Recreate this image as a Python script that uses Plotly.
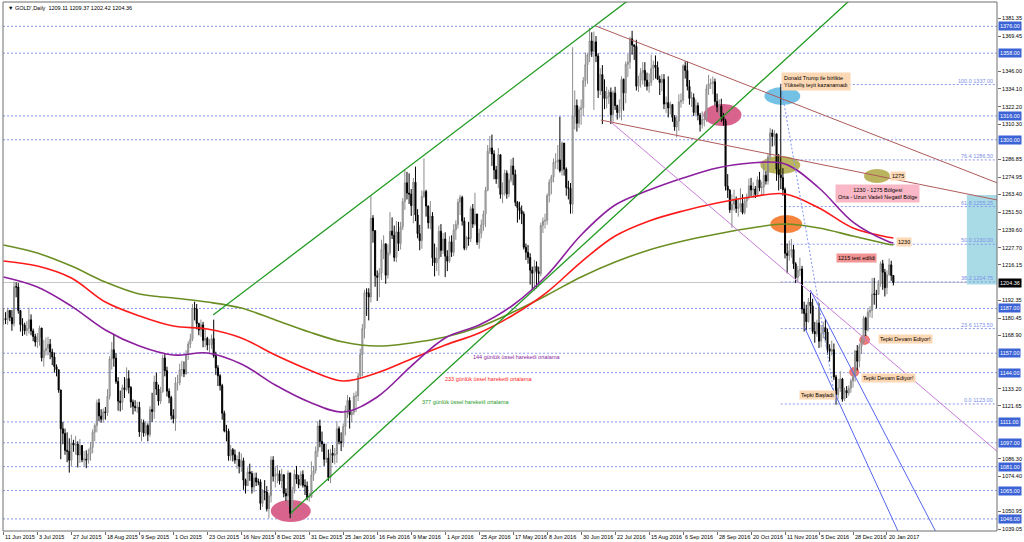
import plotly.graph_objects as go

# ---------------- DATA ----------------
# x-axis labels (MT4 prints one every 16 bars)
tick_labels = ["11 Jun 2015", "3 Jul 2015", "27 Jul 2015", "18 Aug 2015", "9 Sep 2015", "1 Oct 2015",
               "23 Oct 2015", "16 Nov 2015", "8 Dec 2015", "31 Dec 2015", "25 Jan 2016", "16 Feb 2016",
               "9 Mar 2016", "1 Apr 2016", "25 Apr 2016", "17 May 2016", "8 Jun 2016", "30 Jun 2016",
               "22 Jul 2016", "15 Aug 2016", "6 Sep 2016", "28 Sep 2016", "20 Oct 2016", "11 Nov 2016",
               "5 Dec 2016", "28 Dec 2016", "20 Jan 2017"]
BARS_PER_LABEL = 16

first_open = 1179.0
close = [
    # Jun 2015
    1180.2, 1179.6, 1185.6, 1180.9, 1176.7, 1201.5, 1201.4, 1185.6, 1176.2, 1175.8, 1172.1, 1173.6, 1179.4, 1171.9,
    # Jul 2015
    1168.2, 1164.5, 1167.5, 1173.9, 1154.0, 1158.7, 1160.3, 1163.0, 1157.8, 1154.5, 1148.0, 1145.9, 1132.4, 1106.4,
    1103.3, 1091.9, 1091.3, 1085.3, 1096.8, 1095.4, 1096.1, 1088.8, 1095.2,
    # Aug 2015
    1085.6, 1086.0, 1085.5, 1089.6, 1093.9, 1104.0, 1108.6, 1123.8, 1115.0, 1112.8, 1117.8, 1117.1, 1128.2, 1153.2,
    1159.3, 1153.7, 1138.1, 1124.9, 1124.0, 1133.9, 1132.6,
    # Sep 2015
    1140.0, 1134.0, 1124.3, 1121.4, 1120.6, 1120.8, 1104.3, 1110.6, 1103.5, 1108.5, 1102.5, 1119.3, 1117.9, 1137.7,
    1133.0, 1124.9, 1131.4, 1153.8, 1145.3, 1131.6, 1127.3, 1115.2,
    # Oct 2015
    1113.2, 1137.1, 1137.3, 1146.0, 1146.0, 1143.3, 1156.2, 1163.2, 1166.4, 1187.0, 1186.7, 1176.9, 1172.5, 1176.0,
    1165.6, 1167.0, 1162.5, 1162.8, 1166.8, 1155.3, 1147.2, 1141.9,
    # Nov 2015
    1135.3, 1116.8, 1105.0, 1104.8, 1088.2, 1092.4, 1089.0, 1085.4, 1085.8, 1081.2, 1085.0, 1072.0, 1068.3, 1077.5,
    1076.4, 1067.4, 1073.5, 1070.8, 1070.8, 1056.4, 1064.4,
    # Dec 2015
    1064.0, 1052.8, 1061.5, 1085.4, 1074.6, 1075.6, 1076.2, 1071.4, 1075.6, 1063.1, 1061.4, 1076.8, 1049.8, 1065.0,
    1075.9, 1072.6, 1069.0, 1075.8, 1068.5, 1068.0, 1060.4, 1060.8,
    # Jan 2016
    1075.4, 1078.3, 1091.3, 1108.2, 1097.9, 1096.2, 1085.9, 1086.8, 1073.8, 1090.0, 1088.6, 1089.4, 1106.4, 1097.8,
    1097.0, 1107.8, 1118.8, 1125.4, 1115.8, 1117.4,
    # Feb 2016
    1128.2, 1128.4, 1141.6, 1156.1, 1173.5, 1197.5, 1197.3, 1194.7, 1247.5, 1239.1, 1208.9, 1207.9, 1210.7, 1226.6,
    1230.3, 1209.3, 1224.2, 1238.8, 1236.0, 1221.2, 1238.3,
    # Mar 2016
    1230.5, 1241.7, 1258.6, 1271.2, 1264.3, 1263.6, 1255.9, 1271.6, 1249.6, 1237.1, 1232.4, 1262.0, 1265.4, 1255.6,
    1244.4, 1248.9, 1220.9, 1217.6, 1220.4, 1238.7, 1225.9, 1233.5,
    # Apr 2016
    1222.0, 1218.7, 1231.7, 1224.6, 1239.6, 1243.3, 1258.2, 1261.4, 1245.5, 1227.3, 1234.5, 1233.8, 1253.8, 1243.6,
    1250.3, 1231.4, 1237.3, 1243.0, 1250.2, 1266.2, 1292.3,
    # May 2016
    1294.5, 1290.5, 1279.8, 1273.8, 1290.0, 1263.4, 1264.6, 1277.6, 1263.7, 1273.0, 1282.5, 1276.8, 1258.1, 1254.6,
    1252.5, 1250.3, 1228.0, 1224.6, 1221.2, 1212.6, 1210.6, 1215.2,
    # Jun 2016
    1211.7, 1210.3, 1242.6, 1245.5, 1246.0, 1262.6, 1271.5, 1275.1, 1285.0, 1285.2, 1286.5, 1279.3, 1297.8, 1280.3,
    1268.0, 1267.5, 1256.8, 1315.9, 1323.0, 1311.0, 1320.3, 1321.5,
    # Jul 2016
    1339.6, 1350.3, 1356.8, 1366.2, 1359.3, 1365.6, 1356.1, 1333.1, 1343.7, 1332.6, 1327.6, 1328.9, 1331.8, 1316.8,
    1331.4, 1322.9, 1318.2, 1320.4, 1340.5, 1331.4, 1350.6,
    # Aug 2016
    1352.0, 1367.7, 1363.5, 1362.5, 1335.9, 1339.9, 1344.9, 1346.5, 1339.9, 1335.9, 1338.3, 1347.8, 1350.1, 1348.4,
    1340.6, 1338.3, 1340.5, 1323.9, 1324.9, 1321.3, 1323.6, 1315.0, 1308.6,
    # Sep 2016
    1312.5, 1325.4, 1326.4, 1349.6, 1346.4, 1335.8, 1327.7, 1328.2, 1318.3, 1322.9, 1316.5, 1310.3, 1313.6, 1313.9,
    1334.2, 1337.5, 1337.7, 1338.9, 1325.7, 1321.8, 1322.6, 1315.6,
    # Oct 2016
    1312.8, 1268.9, 1266.2, 1253.1, 1256.8, 1259.9, 1254.0, 1255.0, 1257.4, 1251.2, 1259.0, 1261.8, 1269.2, 1266.4,
    1267.0, 1263.4, 1273.2, 1267.7, 1268.4, 1276.2, 1272.3,
    # Nov 2016
    1288.6, 1304.6, 1302.2, 1304.0, 1280.2, 1276.5, 1274.6, 1266.6, 1223.9, 1222.5, 1225.6, 1226.5, 1216.9, 1207.7,
    1212.4, 1213.4, 1186.6, 1183.6, 1178.2, 1191.3, 1188.7, 1171.6,
    # Dec 2016
    1170.0, 1177.3, 1165.1, 1170.3, 1174.2, 1171.2, 1160.0, 1158.3, 1159.4, 1141.1, 1129.3, 1133.7, 1139.7, 1126.2,
    1132.0, 1130.4, 1133.5, 1138.4, 1141.3, 1158.6, 1151.6,
    # Jan 2017
    1161.5, 1164.8, 1180.6, 1172.6, 1184.5, 1185.7, 1196.7, 1196.5, 1196.4, 1203.6, 1217.0, 1211.2, 1200.9, 1209.6,
    1216.2, 1209.11, 1204.36,
]
high = [
    1187.0, 1184.5, 1187.5, 1186.0, 1186.0, 1205.0, 1204.5, 1204.0, 1186.0, 1180.5, 1177.5, 1178.5, 1187.5, 1183.0,
    1173.5, 1170.0, 1170.5, 1175.5, 1174.0, 1166.0, 1167.5, 1168.0, 1166.5, 1160.0, 1157.5, 1149.5, 1146.0, 1132.0,
    1111.0, 1106.5, 1104.0, 1100.0, 1102.5, 1099.0, 1101.5, 1098.0, 1099.5,
    1095.5, 1091.5, 1092.0, 1093.0, 1097.5, 1106.0, 1110.0, 1126.0, 1126.5, 1119.5, 1120.0, 1121.0, 1133.0, 1155.0,
    1164.5, 1170.0, 1157.0, 1141.0, 1132.0, 1136.0, 1141.0,
    1147.5, 1145.5, 1135.0, 1126.0, 1125.5, 1124.5, 1124.5, 1113.0, 1112.5, 1111.5, 1110.0, 1121.5, 1130.5, 1142.0,
    1144.0, 1136.0, 1134.5, 1156.0, 1156.5, 1148.0, 1133.5, 1128.5,
    1119.5, 1141.0, 1142.5, 1150.0, 1152.0, 1151.5, 1159.0, 1165.0, 1170.0, 1190.0, 1191.5, 1190.0, 1177.5, 1179.5,
    1178.0, 1173.0, 1168.0, 1166.5, 1169.5, 1179.5, 1158.0, 1149.0,
    1143.0, 1136.5, 1118.5, 1109.0, 1106.5, 1095.5, 1093.5, 1092.5, 1088.5, 1091.0, 1090.0, 1087.0, 1073.0, 1080.5,
    1083.0, 1078.0, 1077.0, 1077.0, 1073.0, 1072.5, 1066.0,
    1072.0, 1068.0, 1063.5, 1088.0, 1088.0, 1080.5, 1082.0, 1078.5, 1079.5, 1075.0, 1066.5, 1078.5, 1077.0, 1067.5,
    1079.0, 1081.5, 1075.5, 1078.0, 1078.5, 1072.5, 1071.0, 1063.5,
    1084.5, 1081.5, 1094.5, 1111.5, 1112.5, 1104.5, 1095.5, 1096.5, 1092.5, 1093.0, 1095.5, 1093.5, 1111.5, 1108.0,
    1104.0, 1110.0, 1122.0, 1129.0, 1127.5, 1119.0,
    1130.5, 1131.5, 1144.0, 1160.0, 1176.5, 1199.5, 1200.5, 1200.5, 1263.0, 1249.5, 1239.5, 1212.5, 1214.0, 1233.0,
    1236.0, 1223.0, 1230.0, 1251.5, 1248.0, 1242.5, 1245.5,
    1245.0, 1245.0, 1261.0, 1280.0, 1278.5, 1277.5, 1267.0, 1274.5, 1282.0, 1253.5, 1243.0, 1266.0, 1287.5, 1266.5,
    1256.0, 1259.0, 1251.5, 1230.5, 1228.0, 1242.5, 1243.5, 1237.5,
    1238.0, 1226.0, 1235.5, 1236.0, 1243.5, 1246.0, 1260.5, 1263.0, 1262.5, 1248.0, 1235.5, 1245.0, 1255.5, 1257.0,
    1264.5, 1250.0, 1240.5, 1246.5, 1252.5, 1268.5, 1296.5,
    1302.5, 1303.5, 1293.0, 1282.5, 1294.5, 1290.0, 1271.5, 1280.0, 1279.5, 1277.5, 1287.0, 1288.0, 1280.0, 1259.0,
    1258.5, 1256.0, 1252.0, 1230.5, 1229.5, 1224.0, 1215.0, 1219.5,
    1218.5, 1215.0, 1244.5, 1248.0, 1250.5, 1264.0, 1273.5, 1276.5, 1287.5, 1291.0, 1296.5, 1315.5, 1299.0, 1297.5,
    1281.5, 1272.5, 1271.0, 1362.0, 1333.0, 1327.0, 1322.5, 1327.0,
    1342.0, 1358.5, 1358.0, 1375.0, 1372.0, 1372.5, 1369.5, 1358.0, 1348.0, 1350.0, 1340.5, 1335.5, 1333.5, 1335.0,
    1333.0, 1335.5, 1323.5, 1327.0, 1342.5, 1341.0, 1352.5,
    1357.5, 1369.0, 1373.0, 1364.0, 1367.0, 1343.0, 1348.0, 1352.0, 1352.0, 1345.0, 1344.5, 1357.0, 1353.0, 1356.5,
    1352.5, 1343.0, 1344.0, 1344.0, 1329.0, 1342.5, 1325.5, 1324.0, 1316.5,
    1316.0, 1330.5, 1331.0, 1350.5, 1352.5, 1352.5, 1340.0, 1332.0, 1331.0, 1327.0, 1325.0, 1318.0, 1319.0, 1318.0,
    1337.0, 1343.5, 1341.0, 1342.5, 1341.0, 1331.0, 1327.0, 1327.5,
    1318.0, 1314.0, 1277.0, 1267.0, 1263.5, 1266.5, 1262.0, 1260.5, 1267.5, 1263.5, 1261.0, 1264.0, 1274.0, 1274.5,
    1271.5, 1269.0, 1275.5, 1278.5, 1272.0, 1284.0, 1279.0,
    1290.5, 1308.0, 1307.0, 1306.5, 1286.0, 1290.5, 1337.5, 1281.0, 1268.0, 1230.5, 1232.5, 1233.5, 1229.5, 1218.0,
    1215.5, 1221.0, 1215.5, 1191.5, 1189.5, 1194.0, 1197.5, 1193.5,
    1178.0, 1179.5, 1190.5, 1176.0, 1178.0, 1180.0, 1173.5, 1163.0, 1165.5, 1163.5, 1142.5, 1140.0, 1145.0, 1140.5,
    1134.0, 1135.0, 1135.5, 1140.0, 1145.0, 1159.0, 1162.5,
    1163.5, 1167.5, 1182.0, 1181.5, 1186.5, 1188.5, 1207.5, 1207.5, 1199.5, 1206.0, 1218.5, 1219.5, 1213.5, 1212.5,
    1220.5, 1219.0, 1209.37,
]
low = [
    1176.0, 1176.5, 1176.0, 1178.5, 1172.0, 1175.0, 1194.5, 1183.5, 1171.5, 1168.5, 1169.5, 1168.5, 1170.0, 1169.0,
    1165.0, 1161.5, 1160.5, 1162.0, 1151.5, 1148.0, 1155.5, 1155.5, 1153.0, 1149.0, 1144.0, 1141.5, 1130.5, 1086.0,
    1096.0, 1089.0, 1084.0, 1077.0, 1081.5, 1091.0, 1089.0, 1080.5, 1083.5,
    1084.0, 1081.0, 1080.0, 1083.0, 1085.0, 1090.0, 1098.0, 1104.0, 1111.5, 1110.5, 1110.5, 1112.5, 1115.0, 1126.0,
    1146.0, 1148.0, 1136.5, 1118.5, 1118.0, 1119.0, 1127.0,
    1131.5, 1130.0, 1120.5, 1116.0, 1118.0, 1117.0, 1101.0, 1098.0, 1101.0, 1101.5, 1098.0, 1101.0, 1111.0, 1113.0,
    1129.0, 1122.0, 1123.0, 1130.5, 1141.5, 1128.0, 1123.5, 1112.5,
    1110.0, 1105.0, 1132.0, 1135.5, 1141.5, 1141.0, 1142.5, 1152.5, 1160.5, 1165.0, 1179.0, 1173.0, 1169.0, 1168.0,
    1161.0, 1161.0, 1159.0, 1157.0, 1160.0, 1154.0, 1142.5, 1135.0,
    1132.0, 1112.5, 1104.0, 1098.0, 1085.0, 1085.0, 1084.5, 1083.0, 1079.5, 1076.5, 1077.5, 1065.5, 1063.0, 1069.0,
    1071.5, 1063.0, 1064.0, 1068.0, 1068.5, 1052.0, 1054.0,
    1058.5, 1051.0, 1046.5, 1057.0, 1071.0, 1067.0, 1070.0, 1069.0, 1066.5, 1060.5, 1058.0, 1054.5, 1046.5, 1047.0,
    1063.0, 1069.5, 1066.5, 1068.0, 1067.0, 1062.0, 1058.5, 1057.5,
    1060.0, 1071.5, 1076.5, 1087.5, 1094.0, 1091.0, 1081.5, 1083.5, 1071.5, 1070.0, 1083.5, 1082.5, 1083.5, 1096.0,
    1091.5, 1094.0, 1102.0, 1113.5, 1106.5, 1110.5,
    1115.5, 1117.5, 1125.0, 1140.0, 1141.5, 1167.0, 1182.0, 1179.0, 1191.0, 1231.0, 1201.5, 1192.0, 1194.5, 1206.0,
    1220.0, 1203.5, 1207.0, 1222.5, 1233.5, 1218.5, 1218.0,
    1225.5, 1226.5, 1239.5, 1253.0, 1260.0, 1257.0, 1249.0, 1244.0, 1245.5, 1234.0, 1226.0, 1227.0, 1261.0, 1248.5,
    1240.5, 1240.0, 1215.5, 1208.5, 1212.0, 1209.0, 1221.5, 1223.5,
    1208.0, 1212.0, 1217.5, 1221.5, 1222.0, 1233.0, 1240.5, 1249.5, 1242.5, 1226.0, 1226.0, 1229.0, 1231.5, 1241.0,
    1242.5, 1229.5, 1227.0, 1234.0, 1239.0, 1241.5, 1265.5,
    1290.5, 1282.5, 1273.5, 1270.5, 1267.5, 1260.5, 1257.5, 1262.5, 1260.5, 1261.5, 1271.5, 1269.5, 1255.5, 1244.5,
    1246.5, 1243.5, 1226.5, 1219.5, 1217.0, 1203.0, 1199.5, 1199.0,
    1200.5, 1203.0, 1208.5, 1237.5, 1240.5, 1243.0, 1258.0, 1263.5, 1271.5, 1280.5, 1280.0, 1278.0, 1276.0, 1276.0,
    1262.5, 1260.0, 1250.5, 1250.5, 1307.0, 1305.5, 1308.0, 1310.0,
    1316.0, 1335.5, 1337.5, 1352.0, 1355.5, 1320.0, 1352.0, 1328.0, 1330.0, 1310.5, 1320.5, 1321.0, 1324.0, 1310.5,
    1312.0, 1320.0, 1313.5, 1314.5, 1313.0, 1319.5, 1324.5,
    1342.0, 1347.5, 1357.0, 1353.5, 1333.0, 1332.0, 1335.0, 1337.0, 1335.5, 1333.0, 1331.5, 1336.0, 1340.0, 1341.0,
    1340.0, 1330.0, 1332.5, 1320.5, 1318.0, 1315.0, 1317.0, 1312.0, 1306.0,
    1301.5, 1306.0, 1321.5, 1324.0, 1341.0, 1333.0, 1323.5, 1322.0, 1316.0, 1316.5, 1313.0, 1305.5, 1307.5, 1309.0,
    1312.0, 1330.0, 1334.0, 1330.5, 1323.0, 1318.5, 1316.0, 1312.0,
    1309.5, 1266.0, 1261.0, 1251.0, 1241.0, 1252.5, 1251.0, 1248.5, 1251.5, 1250.0, 1250.0, 1254.5, 1260.0, 1262.0,
    1261.0, 1261.0, 1262.0, 1265.5, 1263.0, 1262.5, 1270.0,
    1270.0, 1286.5, 1295.5, 1296.0, 1272.5, 1266.0, 1267.0, 1262.5, 1220.5, 1210.5, 1219.0, 1221.0, 1213.5, 1204.0,
    1205.0, 1208.5, 1183.5, 1171.5, 1172.5, 1177.5, 1183.5, 1170.0,
    1164.0, 1168.0, 1160.5, 1161.0, 1167.0, 1165.5, 1156.0, 1151.5, 1155.5, 1139.0, 1122.5, 1126.5, 1131.0, 1124.5,
    1125.0, 1127.0, 1128.5, 1130.5, 1134.0, 1138.0, 1145.5,
    1147.5, 1156.5, 1163.5, 1168.5, 1171.5, 1181.0, 1180.5, 1189.5, 1187.0, 1196.5, 1201.5, 1199.5, 1195.0, 1196.5,
    1209.0, 1205.5, 1202.42,
]
assert len(close) == len(high) == len(low) == 420

ma_bars = [0, 16, 32, 48, 64, 80, 96, 112, 128, 144, 160, 176, 192, 208, 224, 240, 256, 272, 288, 304,
           320, 336, 352, 368, 384, 400, 416, 419]
ema144 = [1208.1, 1201.4, 1188.6, 1172.6, 1161.8, 1155.8, 1157.2, 1149.8, 1135.7, 1124.3, 1117.6, 1127.7,
          1148.4, 1167.2, 1175.9, 1189.3, 1209.4, 1236.2, 1256.3, 1266.3, 1274.4, 1281.1, 1284.4, 1283.8,
          1267.7, 1244.9, 1232.2, 1230.8]
ema233 = [1218.8, 1215.4, 1207.4, 1191.3, 1182.0, 1175.2, 1173.2, 1167.2, 1155.8, 1145.8, 1138.4, 1143.9,
          1153.2, 1162.5, 1170.6, 1182.6, 1198.0, 1218.1, 1235.5, 1245.6, 1252.3, 1257.6, 1261.7, 1263.7,
          1254.3, 1240.9, 1234.9, 1234.2]
ema377 = [1229.5, 1224.1, 1215.4, 1204.7, 1196.7, 1194.0, 1191.3, 1187.3, 1179.3, 1171.2, 1164.5, 1161.8,
          1163.9, 1167.9, 1174.6, 1184.6, 1196.0, 1208.1, 1218.1, 1226.2, 1232.2, 1236.9, 1240.9, 1243.6,
          1240.9, 1235.5, 1230.2, 1229.5]

# horizontal support / resistance levels
levels = [1376.00, 1358.00, 1316.00, 1300.00, 1187.00, 1157.00, 1144.00, 1111.00, 1097.00, 1081.00, 1065.00, 1046.00]
# fibonacci (high 1337 on Trump day -> low 1123)
fib_ratios = ["100.0", "76.4", "61.8", "50.0", "38.2", "23.6", "0.0"]
fib_prices = [1337.00, 1286.50, 1255.25, 1230.00, 1204.75, 1173.50, 1123.00]
# right price scale
scale_vals = [1381.35, 1369.45, 1346.00, 1334.10, 1322.20, 1310.30, 1286.85, 1274.95, 1263.40, 1251.50,
              1239.60, 1227.70, 1216.15, 1192.35, 1180.45, 1168.90, 1133.20, 1121.65, 1086.30, 1074.40,
              1050.95, 1039.05]
last_price = 1204.36

# trend lines: (bar, price) end points
green_lower = [(135.3, 1050.0), (398.6, 1393.6)]
green_upper = [(98.7, 1182.6), (294.4, 1393.6)]
brown_a = [(278.9, 1376.2), (468.1, 1271.0)]
brown_b = [(281.3, 1313.2), (468.1, 1259.6)]
violet = [(286.0, 1311.9), (468.1, 1090.9)]
blue_c = [(377.1, 1174.6), (425.9, 1023.2)]
blue_d = [(379.9, 1199.4), (442.2, 1028.6)]
fib_diag = [(366.0, 1337.0), (392.0, 1123.0)]

FONT = "Liberation Sans"
FS = 5.5
X_MIN, X_MAX = -0.2, 467.8
Y_MIN, Y_MAX = 1037.9, 1392.3

# ---------------- FIGURE ----------------
bars = list(range(len(close)))
opens = [first_open] + close[:-1]

fig = go.Figure()


def seg(pts, color, width=1.0, dash="solid"):
    fig.add_trace(go.Scatter(x=[p[0] for p in pts], y=[p[1] for p in pts], mode="lines",
                             line=dict(color=color, width=width, dash=dash), hoverinfo="skip",
                             showlegend=False))


# moving averages
fig.add_trace(go.Scatter(x=ma_bars, y=ema377, mode="lines", line=dict(color="#6b8e23", width=1.6, shape="spline"),
                         hoverinfo="skip", showlegend=False))
fig.add_trace(go.Scatter(x=ma_bars, y=ema233, mode="lines", line=dict(color="#ff1a1a", width=1.6, shape="spline"),
                         hoverinfo="skip", showlegend=False))
fig.add_trace(go.Scatter(x=ma_bars, y=ema144, mode="lines", line=dict(color="#8b1f9e", width=1.6, shape="spline"),
                         hoverinfo="skip", showlegend=False))

# candles
fig.add_trace(go.Candlestick(x=bars, open=opens, high=high, low=low, close=close,
                             increasing=dict(line=dict(color="#8c8c8c", width=1), fillcolor="#c8c8c8"),
                             decreasing=dict(line=dict(color="#000000", width=1), fillcolor="#000000"),
                             whiskerwidth=0, hoverinfo="skip", showlegend=False))

# trend lines
seg(green_lower, "#1f9a1f", 1.3)
seg(green_upper, "#1f9a1f", 1.3)
seg(brown_a, "#b05a5a", 1.0)
seg(brown_b, "#b05a5a", 1.0)
seg(violet, "#c77dd6", 1.0)
seg(blue_c, "#5565f0", 1.0)
seg(blue_d, "#5565f0", 1.0)
seg(fib_diag, "#7d95f0", 1.0, "2px,2px")

shapes = []
# blue zone box on the right
shapes.append(dict(type="rect", xref="x", yref="y", x0=453.6, x1=X_MAX, y0=1203.0, y1=1263.0,
                   fillcolor="#a9dbe6", line=dict(width=0), layer="below"))
# full-width dotted levels
for lv in levels:
    shapes.append(dict(type="line", xref="paper", yref="y", x0=0, x1=1, y0=lv, y1=lv,
                       line=dict(color="#8896e8", width=1, dash="2px,2px"), layer="below"))
# fib levels
for fp in fib_prices:
    shapes.append(dict(type="line", xref="x", yref="y", x0=366, x1=X_MAX, y0=fp, y1=fp,
                       line=dict(color="#8896e8", width=1, dash="2px,2px"), layer="below"))
# bid line
shapes.append(dict(type="line", xref="paper", yref="y", x0=0, x1=1, y0=last_price, y1=last_price,
                   line=dict(color="#c8c8c8", width=1), layer="below"))
# ellipses
ellipses = [
    (125.9, 144.7, 1044.0, 1058.7, "#d8648e"),
    (329.6, 347.5, 1309.2, 1323.9, "#d8648e"),
    (358.3, 375.2, 1323.3, 1335.3, "#73c2e6"),
    (356.4, 375.2, 1277.1, 1289.1, "#bab45f"),
    (405.2, 417.4, 1271.0, 1280.4, "#bab45f"),
    (361.1, 376.1, 1237.5, 1249.6, "#f5843f"),
    (402.9, 408.0, 1162.5, 1169.2, "#ef7878"),
    (398.2, 402.9, 1141.1, 1147.8, "#ef7878"),
]
for x0, x1, y0, y1, col in ellipses:
    shapes.append(dict(type="circle", xref="x", yref="y", x0=x0, x1=x1, y0=y0, y1=y1,
                       fillcolor=col, line=dict(width=0), layer="below"))
# frame
shapes.append(dict(type="rect", xref="paper", yref="paper", x0=0, x1=1, y0=0, y1=1,
                   line=dict(color="#6e6e6e", width=1), fillcolor="rgba(0,0,0,0)"))

ann = []


def txt(x, y, s, color="#000", bg=None, xanchor="left", yanchor="middle", xref="x", yref="y", align="left",
        xshift=0, yshift=0, size=FS, pad=1):
    d = dict(x=x, y=y, xref=xref, yref=yref, text=s, showarrow=False, xanchor=xanchor, yanchor=yanchor,
             align=align, font=dict(family=FONT, size=size, color=color), xshift=xshift, yshift=yshift,
             borderpad=pad)
    if bg:
        d["bgcolor"] = bg
    ann.append(d)


# title
txt(0, 1, "\u25bc GOLD',Daily  1209.11 1209.37 1202.42 1204.36", xref="paper", yref="paper",
    yanchor="top", xshift=3, yshift=-1)
# x labels
for i, lab in enumerate(tick_labels):
    txt(i * BARS_PER_LABEL, 0, lab, xref="x", yref="paper", yanchor="top", yshift=-1)
# highlighted level prices on the scale
for lv in levels:
    txt(1, lv, f"{lv:.2f}", color="#ffffff", bg="#3c63d6", xref="paper", xshift=1)
txt(1, last_price, f"{last_price:.2f}", color="#ffffff", bg="#000000", xref="paper", xshift=1)
# fib labels
for r, fp in zip(fib_ratios, fib_prices):
    txt(X_MAX, fp, f"{r} {fp:.2f}", color="#7d8fe8", xanchor="right", yanchor="bottom", xshift=-3, pad=0)

# chart notes
txt(366.3, 1345.4, "Donald Trump ile birlikte<br>Yükseliş teyit kazanamadı", bg="#fdd8b4", yanchor="top", pad=2)
txt(417.5, 1275.6, "1275", bg="#fdd8b4")
txt(411.3, 1264.3, "1230 - 1275 Bölgesi<br>Orta - Uzun Vadeli Negatif Bölge", bg="#fab8c6", xanchor="center",
    align="center", pad=2)
txt(420.2, 1231.2, "1230", bg="#fdd8b4")
txt(401.7, 1221.1, "1215 test edildi", bg="#f29494", xanchor="center")
txt(411.8, 1166.2, "Tepki Devam Ediyor!", bg="#fdd8b4")
txt(403.8, 1140.7, "Tepki Devam Ediyor!", bg="#fdd8b4")
txt(374.7, 1128.7, "Tepki Başladı", bg="#fdd8b4")
txt(220.3, 1154.5, "144 günlük üssel hareketli ortalama", color="#8b1f9e")
txt(207.1, 1139.7, "233 günlük üssel hareketli ortalama", color="#ff1a1a")
txt(196.3, 1124.3, "377 günlük üssel hareketli ortalama", color="#1f9a1f")

fig.update_layout(
    width=1024, height=542,
    margin=dict(l=3, r=24, t=2, b=11),
    paper_bgcolor="#ffffff", plot_bgcolor="#ffffff",
    showlegend=False,
    shapes=shapes, annotations=ann,
    font=dict(family=FONT, size=FS, color="#000"),
    xaxis=dict(range=[X_MIN, X_MAX], rangeslider=dict(visible=False), showgrid=False, zeroline=False,
               tickvals=[i * BARS_PER_LABEL for i in range(len(tick_labels))], showticklabels=False,
               ticks="outside", ticklen=3, tickcolor="#6e6e6e"),
    yaxis=dict(range=[Y_MIN, Y_MAX], side="right", showgrid=False, zeroline=False,
               tickvals=scale_vals, ticktext=[f"{v:.2f}" for v in scale_vals],
               ticks="outside", ticklen=3, tickcolor="#6e6e6e",
               tickfont=dict(family=FONT, size=FS, color="#000")),
)

fig.write_html("out.html", config={"displayModeBar": False, "displaylogo": False},
               post_script="document.body.style.margin='0';document.body.style.overflow='hidden';")
